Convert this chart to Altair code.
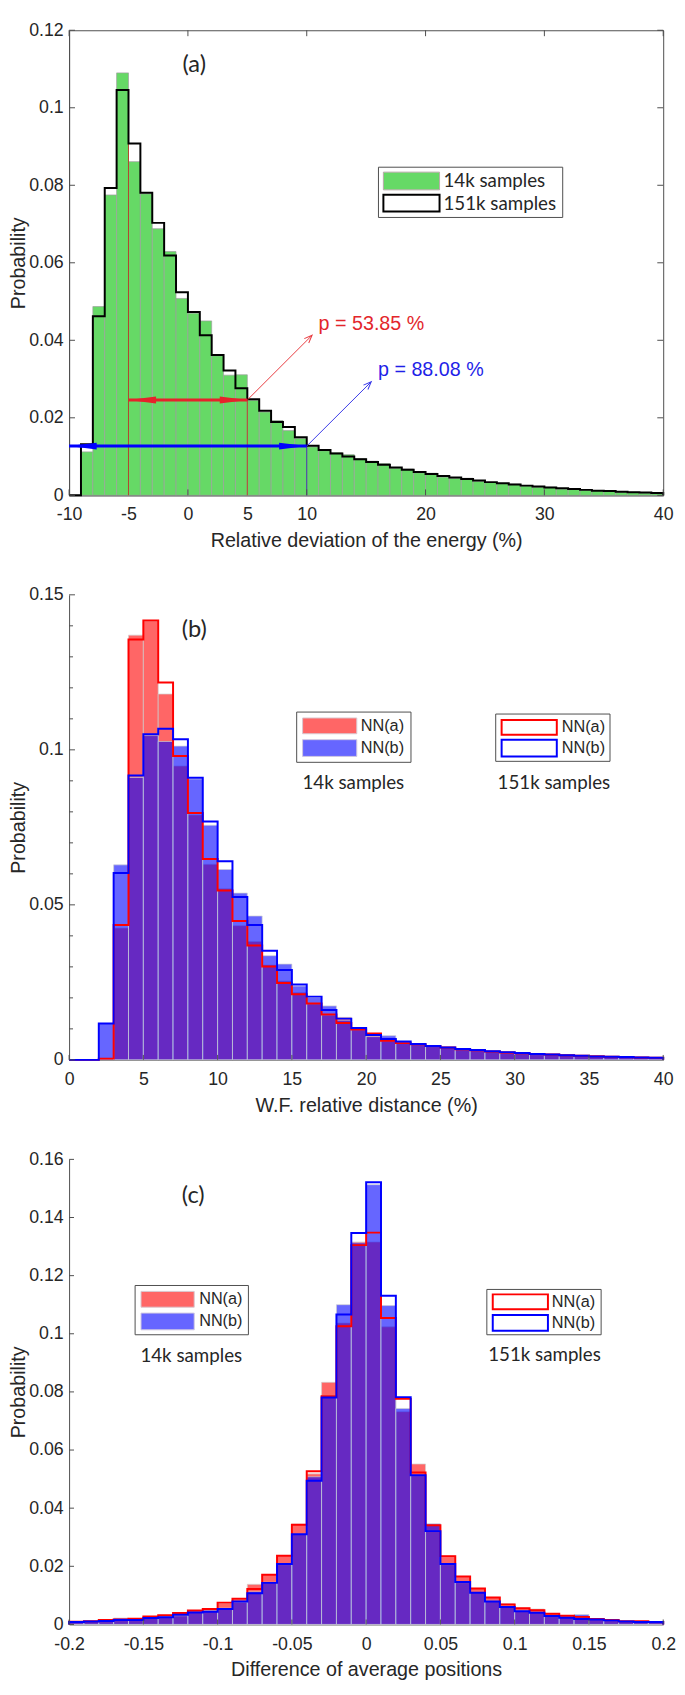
import altair as alt
import pandas as pd

# ---------------- data: panel (a) ----------------
A_EDGES = list(range(-10, 41))
A_14K = [0.0, 0.0112, 0.0487, 0.0775, 0.1090, 0.0861, 0.0778, 0.0688, 0.0629, 0.0508,
         0.0470, 0.0450, 0.0360, 0.0310, 0.0311, 0.0245, 0.0215, 0.0193, 0.0167, 0.0147,
         0.0125, 0.0115, 0.0110, 0.0105, 0.0095, 0.0088, 0.0082, 0.0070, 0.0068, 0.0058,
         0.0057, 0.0047, 0.0044, 0.0044, 0.0036, 0.0033, 0.0030, 0.0029, 0.0024, 0.0021,
         0.0021, 0.0016, 0.0015, 0.0013, 0.0012, 0.0010, 0.0008, 0.0008, 0.0006, 0.0005]
A_151K = [0.0, 0.0132, 0.0462, 0.0793, 0.1046, 0.0908, 0.0781, 0.0703, 0.0619, 0.0524,
          0.0473, 0.0413, 0.0362, 0.0322, 0.0276, 0.0248, 0.0218, 0.0189, 0.0176, 0.0150,
          0.0128, 0.0117, 0.0108, 0.0100, 0.0093, 0.0086, 0.0079, 0.0072, 0.0066, 0.0060,
          0.0055, 0.0050, 0.0046, 0.0042, 0.0038, 0.0034, 0.0031, 0.0028, 0.0025, 0.0023,
          0.0020, 0.0018, 0.0016, 0.0014, 0.0012, 0.0011, 0.0009, 0.0008, 0.0007, 0.0006]
A_XTICKS = [-10, -5, 0, 5, 10, 20, 30, 40]
A_XMARKS = [-10, 0, 10, 20, 30, 40]
A_YTICKS = [0, 0.02, 0.04, 0.06, 0.08, 0.1, 0.12]
A_SPAN_X1 = [-5, -10]
A_SPAN_X2 = [5, 10]
A_SPAN_Y = [0.0246, 0.0127]
A_LEAD_X2 = [10.45, 15.43]
A_LEAD_Y2 = [0.0413, 0.0293]
A_P_LABELS = ["p = 53.85 %", "p = 88.08 %"]
A_P_X = [11.0, 16.0]
A_P_Y = [0.0443, 0.0322]
A_VLINE_X = [-5, 5, 10]
A_VLINE_TOP = [0.0908, 0.0246, 0.0127]

# ---------------- data: panel (b) ----------------
B_EDGES = list(range(0, 41))
B_NNA_14K = [0, 0, 0.0005, 0.0425, 0.1370, 0.1415, 0.1180, 0.0948, 0.0790, 0.0631,
             0.0552, 0.0433, 0.0382, 0.0306, 0.0254, 0.0217, 0.0180, 0.0143, 0.0137, 0.0096,
             0.0083, 0.0060, 0.0055, 0.0050, 0.0045, 0.0041, 0.0035, 0.0031, 0.0027, 0.0024,
             0.0021, 0.0019, 0.0017, 0.0015, 0.0013, 0.0012, 0.0010, 0.0009, 0.0008, 0.0007]
B_NNB_14K = [0, 0, 0.0117, 0.0629, 0.0911, 0.1046, 0.1027, 0.1012, 0.0906, 0.0757,
             0.0614, 0.0538, 0.0464, 0.0336, 0.0309, 0.0238, 0.0201, 0.0174, 0.0128, 0.0101,
             0.0075, 0.0078, 0.0058, 0.0051, 0.0044, 0.0040, 0.0036, 0.0032, 0.0028, 0.0025,
             0.0022, 0.0019, 0.0017, 0.0015, 0.0013, 0.0011, 0.0010, 0.0009, 0.0008, 0.0007]
B_NNA_151K = [0, 0, 0.0004, 0.0435, 0.1356, 0.1417, 0.1217, 0.0980, 0.0796, 0.0648,
              0.0546, 0.0448, 0.0369, 0.0301, 0.0248, 0.0212, 0.0182, 0.0146, 0.0119, 0.0098,
              0.0085, 0.0062, 0.0054, 0.0050, 0.0045, 0.0040, 0.0034, 0.0031, 0.0027, 0.0024,
              0.0021, 0.0019, 0.0017, 0.0015, 0.0013, 0.0012, 0.0010, 0.0009, 0.0008, 0.0007]
B_NNB_151K = [0, 0, 0.0117, 0.0603, 0.0917, 0.1050, 0.1068, 0.1034, 0.0910, 0.0769,
              0.0641, 0.0525, 0.0435, 0.0352, 0.0290, 0.0243, 0.0204, 0.0161, 0.0133, 0.0103,
              0.0080, 0.0067, 0.0059, 0.0051, 0.0045, 0.0040, 0.0035, 0.0032, 0.0028, 0.0025,
              0.0022, 0.0019, 0.0017, 0.0015, 0.0013, 0.0011, 0.0010, 0.0009, 0.0008, 0.0007]
B_XTICKS = [0, 5, 10, 15, 20, 25, 30, 35, 40]
B_YTICKS = [0, 0.05, 0.1, 0.15]
B_YMINOR = [0.01, 0.02, 0.03, 0.04, 0.06, 0.07, 0.08, 0.09, 0.11, 0.12, 0.13, 0.14]

# ---------------- data: panel (c) ----------------
C_EDGES = [round(-0.2 + 0.01 * i, 2) for i in range(41)]
C_NNA_14K = [0.0009, 0.0011, 0.0017, 0.0017, 0.0018, 0.0027, 0.0032, 0.0039, 0.0048, 0.0053,
             0.0073, 0.0086, 0.0138, 0.0171, 0.0236, 0.0345, 0.0518, 0.0833, 0.1037, 0.1316,
             0.1316, 0.1024, 0.0732, 0.0552, 0.0342, 0.0236, 0.0164, 0.0124, 0.0093, 0.0071,
             0.0057, 0.0053, 0.0037, 0.0030, 0.0025, 0.0019, 0.0015, 0.0012, 0.0011, 0.0008]
C_NNB_14K = [0.0008, 0.0010, 0.0012, 0.0022, 0.0018, 0.0022, 0.0026, 0.0030, 0.0041, 0.0047,
             0.0056, 0.0077, 0.0112, 0.0145, 0.0206, 0.0310, 0.0508, 0.0787, 0.1100, 0.1313,
             0.1513, 0.1097, 0.0743, 0.0512, 0.0346, 0.0206, 0.0144, 0.0110, 0.0080, 0.0061,
             0.0047, 0.0041, 0.0031, 0.0024, 0.0034, 0.0018, 0.0014, 0.0010, 0.0008, 0.0008]
C_NNA_151K = [0.0009, 0.0011, 0.0015, 0.0017, 0.0020, 0.0027, 0.0032, 0.0039, 0.0048, 0.0053,
              0.0075, 0.0088, 0.0122, 0.0171, 0.0236, 0.0343, 0.0527, 0.0785, 0.1026, 0.1305,
              0.1348, 0.1054, 0.0776, 0.0523, 0.0341, 0.0235, 0.0165, 0.0124, 0.0093, 0.0069,
              0.0056, 0.0049, 0.0037, 0.0030, 0.0026, 0.0019, 0.0015, 0.0011, 0.0011, 0.0008]
C_NNB_151K = [0.0008, 0.0010, 0.0012, 0.0015, 0.0015, 0.0022, 0.0025, 0.0033, 0.0041, 0.0044,
              0.0053, 0.0079, 0.0107, 0.0143, 0.0208, 0.0310, 0.0494, 0.0781, 0.1066, 0.1347,
              0.1521, 0.1131, 0.0782, 0.0513, 0.0321, 0.0208, 0.0146, 0.0109, 0.0079, 0.0060,
              0.0045, 0.0040, 0.0029, 0.0023, 0.0019, 0.0017, 0.0014, 0.0010, 0.0008, 0.0008]
C_XTICKS = [-0.2, -0.15, -0.1, -0.05, 0, 0.05, 0.1, 0.15, 0.2]
C_YTICKS = [0, 0.02, 0.04, 0.06, 0.08, 0.1, 0.12, 0.14, 0.16]

# ---------------- styling ----------------
W, H = 603, 472
AX = "#4d4d4d"
TXT = "#262626"
SANS = "Liberation Sans"
CAL = "Lato"
GREEN = "#66d966"
ONE = pd.DataFrame({"k": [0]})

RHEAD = "M0,0 L-2,-0.25 L-2,0.25 Z"
LHEAD = "M0,0 L2,-0.25 L2,0.25 Z"
OPENHEAD = "M-1,-0.4 L0,0 L-1,0.4"


def xaxis(values, title):
    return alt.Axis(values=values, title=title, labelExpr="datum.value + ''", labelFlush=False,
                    labelOverlap=False, labelPadding=11, titlePadding=7, ticks=False, grid=False)


def yaxis(values, title):
    return alt.Axis(values=values, title=title, labelExpr="datum.value + ''", labelFlush=False,
                    labelOverlap=False, labelPadding=6, titlePadding=0, ticks=False, grid=False)


def bars_df(edges, vals):
    return pd.DataFrame({"lo": edges[:-1], "hi": edges[1:], "p": vals, "z": 0.0})


def stairs_df(edges, vals):
    xs, ys = [edges[0]], [0.0]
    for i, v in enumerate(vals):
        xs += [edges[i], edges[i + 1]]
        ys += [v, v]
    xs.append(edges[-1])
    ys.append(0.0)
    return pd.DataFrame({"x": xs, "y": ys, "i": list(range(len(xs)))})


def X(field, P):
    return alt.X(field, scale=P["xs"], axis=P["xa"])


def Y(field, P):
    return alt.Y(field, scale=P["ys"], axis=P["ya"])


def fill_layer(edges, vals, color, fo, stroke, P):
    return alt.Chart(bars_df(edges, vals)).mark_rect(
        fill=color, fillOpacity=fo, stroke=stroke, strokeWidth=1, strokeOpacity=0.7
    ).encode(x=X("lo:Q", P), x2="hi:Q", y=Y("p:Q", P), y2="z:Q")


def stairs_layer(edges, vals, color, P):
    return alt.Chart(stairs_df(edges, vals)).mark_line(
        color=color, strokeWidth=2, strokeJoin="miter"
    ).encode(x=X("x:Q", P), y=Y("y:Q", P), order="i:Q")


def ticks_x(vals, P, length, top=False):
    y1 = 0 if top else H
    y2 = length if top else H - length
    return alt.Chart(pd.DataFrame({"t": vals})).mark_rule(color=AX, strokeWidth=1).encode(
        x=X("t:Q", P), y=alt.value(y1), y2=alt.value(y2))


def ticks_y(vals, P, length, right=False):
    x1 = W if right else 0
    x2 = W - length if right else length
    return alt.Chart(pd.DataFrame({"t": vals})).mark_rule(color=AX, strokeWidth=1).encode(
        y=Y("t:Q", P), x=alt.value(x1), x2=alt.value(x2))


def px_rect(x1, y1, x2, y2, fill="white", stroke=AX, sw=1.0, fo=1.0):
    return alt.Chart(ONE).mark_rect(fill=fill, fillOpacity=fo, stroke=stroke, strokeWidth=sw).encode(
        x=alt.value(x1), x2=alt.value(x2), y=alt.value(y1), y2=alt.value(y2))


def px_text(x, y, s, size, font=SANS, color=TXT, align="left"):
    return alt.Chart(ONE).mark_text(text=s, font=font, fontSize=size, color=color,
                                    align=align, baseline="middle").encode(
        x=alt.value(x), y=alt.value(y))


# ---------------- panel (a) ----------------
PA = dict(xs=alt.Scale(domain=[-10, 40], nice=False, zero=False),
          ys=alt.Scale(domain=[0, 0.12], nice=False, zero=False),
          xa=xaxis(A_XTICKS, "Relative deviation of the energy (%)"),
          ya=yaxis(A_YTICKS, "Probability"))

a_fill = fill_layer(A_EDGES, A_14K, GREEN, 1.0, "#9e9e9e", PA)
a_black = stairs_layer(A_EDGES, A_151K, "#000000", PA)

vl_df = pd.DataFrame({"x": A_VLINE_X, "y0": 0.0, "top": A_VLINE_TOP,
                      "c": ["#b3472d", "#b3472d", "#3c3ca8"]})
a_vlines = alt.Chart(vl_df).mark_rule(strokeWidth=1).encode(
    x=X("x:Q", PA), y=Y("y0:Q", PA), y2="top:Q", color=alt.Color("c:N", scale=None))

span_df = pd.DataFrame({"x1": A_SPAN_X1, "x2": A_SPAN_X2, "y": A_SPAN_Y,
                        "c": ["#e6232a", "#0000ff"]})
a_shafts = alt.Chart(span_df).mark_rule(strokeWidth=3).encode(
    x=X("x1:Q", PA), x2="x2:Q", y=Y("y:Q", PA), color=alt.Color("c:N", scale=None))
a_rheads = alt.Chart(span_df).mark_point(shape=RHEAD, size=784, filled=True, opacity=1, strokeWidth=0).encode(
    x=X("x2:Q", PA), y=Y("y:Q", PA), color=alt.Color("c:N", scale=None))
a_lheads = alt.Chart(span_df).mark_point(shape=LHEAD, size=784, filled=True, opacity=1, strokeWidth=0).encode(
    x=X("x1:Q", PA), y=Y("y:Q", PA), color=alt.Color("c:N", scale=None))

lead_df = pd.DataFrame({"x1": A_SPAN_X2, "y1": A_SPAN_Y, "x2": A_LEAD_X2, "y2": A_LEAD_Y2,
                        "c": ["#e8393e", "#3a3ae8"]})
a_leads = alt.Chart(lead_df).mark_rule(strokeWidth=1).encode(
    x=X("x1:Q", PA), x2="x2:Q", y=Y("y1:Q", PA), y2="y2:Q", color=alt.Color("c:N", scale=None))
a_leadheads = alt.Chart(lead_df).mark_point(shape=OPENHEAD, size=256, filled=False, opacity=1,
                                            strokeWidth=1, angle=315).encode(
    x=X("x2:Q", PA), y=Y("y2:Q", PA), color=alt.Color("c:N", scale=None))

ptext_df = pd.DataFrame({"x": A_P_X, "y": A_P_Y, "s": A_P_LABELS, "c": ["#e3262b", "#1f1fe8"]})
a_ptext = alt.Chart(ptext_df).mark_text(font=SANS, fontSize=20, align="left", baseline="middle").encode(
    x=X("x:Q", PA), y=Y("y:Q", PA), text="s:N", color=alt.Color("c:N", scale=None))

a_legend = [
    px_rect(314, 139, 501, 190, fill="white", stroke=AX, sw=1),
    px_rect(319, 144, 376, 162, fill=GREEN, stroke="#b9a9a9", sw=1),
    px_rect(319, 167, 376, 184, fill="white", stroke="#000000", sw=2),
    px_text(380, 153, "14k samples", 19, font=CAL),
    px_text(380, 176, "151k samples", 19, font=CAL),
]

panel_a = alt.layer(
    a_fill, a_vlines, a_black, a_shafts, a_rheads, a_lheads, a_leads, a_leadheads, a_ptext,
    ticks_x(A_XMARKS, PA, 6), ticks_x(A_XMARKS, PA, 6, top=True),
    ticks_y(A_YTICKS, PA, 6), ticks_y(A_YTICKS, PA, 6, right=True),
    *a_legend,
    px_text(127, 35, "(a)", 24, font=CAL, align="center"),
).properties(width=W, height=H, view=alt.ViewBackground(stroke=AX, strokeWidth=1))

# ---------------- panel (b) ----------------
PB = dict(xs=alt.Scale(domain=[0, 40], nice=False, zero=False),
          ys=alt.Scale(domain=[0, 0.15], nice=False, zero=False),
          xa=xaxis(B_XTICKS, "W.F. relative distance (%)"),
          ya=yaxis(B_YTICKS, "Probability"))

b_red = fill_layer(B_EDGES, B_NNA_14K, "#ff0000", 0.6, "#d0d0d0", PB)
b_blue = fill_layer(B_EDGES, B_NNB_14K, "#0000ff", 0.6, "#d0d0d0", PB)
b_red_line = stairs_layer(B_EDGES, B_NNA_151K, "#ff0000", PB)
b_blue_line = stairs_layer(B_EDGES, B_NNB_151K, "#0000ff", PB)

b_legend = [
    px_rect(231, 119, 347, 170, fill="white", stroke=AX, sw=1),
    px_rect(237, 125, 292, 141, fill="#ff6666", stroke="#d8c8d0", sw=1),
    px_rect(237, 147, 292, 164, fill="#6666ff", stroke="#d0c8e0", sw=1),
    px_text(296, 133, "NN(a)", 16.5),
    px_text(296, 155.5, "NN(b)", 16.5),
    px_text(288.5, 191, "14k samples", 19, font=CAL, align="center"),
    px_rect(433, 121, 549, 169, fill="white", stroke=AX, sw=1),
    px_rect(439, 127, 495, 142, fill="white", stroke="#ff0000", sw=2),
    px_rect(439, 147, 495, 164, fill="white", stroke="#0000ff", sw=2),
    px_text(500, 134.5, "NN(a)", 16.5),
    px_text(500, 155.5, "NN(b)", 16.5),
    px_text(492, 191, "151k samples", 19, font=CAL, align="center"),
]

panel_b = alt.layer(
    b_red, b_blue, b_red_line, b_blue_line,
    ticks_x(B_XTICKS, PB, 5), ticks_y(B_YTICKS, PB, 6), ticks_y(B_YMINOR, PB, 4),
    *b_legend,
    px_text(127, 36, "(b)", 24, font=CAL, align="center"),
).properties(width=W, height=H)

# ---------------- panel (c) ----------------
PC = dict(xs=alt.Scale(domain=[-0.2, 0.2], nice=False, zero=False),
          ys=alt.Scale(domain=[0, 0.16], nice=False, zero=False),
          xa=xaxis(C_XTICKS, "Difference of average positions"),
          ya=yaxis(C_YTICKS, "Probability"))

c_red = fill_layer(C_EDGES, C_NNA_14K, "#ff0000", 0.6, "#d0d0d0", PC)
c_blue = fill_layer(C_EDGES, C_NNB_14K, "#0000ff", 0.6, "#d0d0d0", PC)
c_red_line = stairs_layer(C_EDGES, C_NNA_151K, "#ff0000", PC)
c_blue_line = stairs_layer(C_EDGES, C_NNB_151K, "#0000ff", PC)

c_legend = [
    px_rect(67, 128, 182, 178, fill="white", stroke=AX, sw=1),
    px_rect(73, 134, 127, 150, fill="#ff6666", stroke="#d8c8d0", sw=1),
    px_rect(73, 156, 127, 173, fill="#6666ff", stroke="#d0c8e0", sw=1),
    px_text(132, 142, "NN(a)", 16.5),
    px_text(132, 164.5, "NN(b)", 16.5),
    px_text(124, 200, "14k samples", 19, font=CAL, align="center"),
    px_rect(424, 132, 540, 178, fill="white", stroke=AX, sw=1),
    px_rect(430, 137, 486, 152, fill="white", stroke="#ff0000", sw=2),
    px_rect(430, 158, 486, 174, fill="white", stroke="#0000ff", sw=2),
    px_text(490, 144.5, "NN(a)", 16.5),
    px_text(490, 166, "NN(b)", 16.5),
    px_text(482.5, 199, "151k samples", 19, font=CAL, align="center"),
]

panel_c = alt.layer(
    c_red, c_blue, c_red_line, c_blue_line,
    ticks_x(C_XTICKS, PC, 5), ticks_y(C_YTICKS, PC, 5),
    *c_legend,
    px_text(126, 37, "(c)", 24, font=CAL, align="center"),
).properties(width=W, height=H)

chart = alt.vconcat(panel_a, panel_b, panel_c, spacing=101, bounds="flush").properties(
    padding={"left": 0, "top": 0, "right": 0, "bottom": 0}
).configure_axis(
    labelFont=SANS, labelFontSize=18, labelColor=TXT,
    titleFont=SANS, titleFontSize=20, titleFontWeight="normal", titleColor=TXT,
    domainColor=AX, domainWidth=1, grid=False,
).configure_view(stroke="transparent")

chart.save("out.html", embed_options={"renderer": "svg", "actions": False})
